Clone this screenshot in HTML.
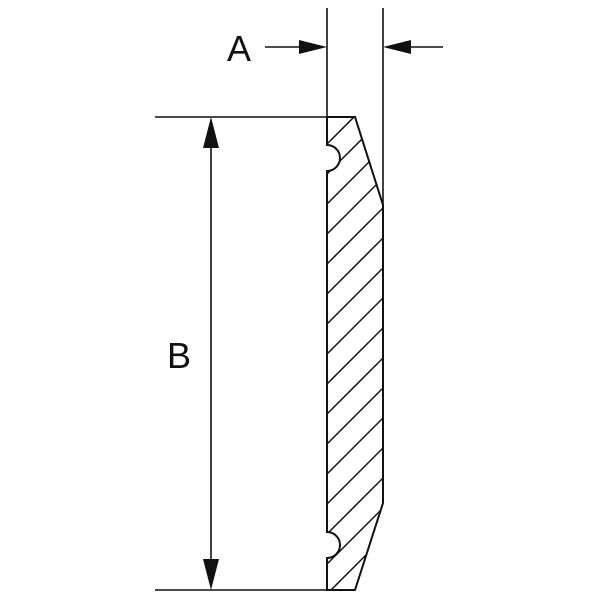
<!DOCTYPE html>
<html><head><style>html,body{margin:0;padding:0;background:#fff;overflow:hidden;width:600px;height:600px}svg{display:block}</style></head><body>
<svg width="600" height="600" viewBox="0 0 600 600" xmlns="http://www.w3.org/2000/svg">
<defs>
<clipPath id="c"><path d="M327,117 L355,117 L383,205 L383,503 L355,590 L327,590 L327,558 A13,13 0 0 0 327,532 L327,171 A13,13 0 0 0 327,145 Z"/></clipPath>
</defs>
<g stroke="#111" fill="none" stroke-width="1.6">
<line x1="327" y1="8" x2="327" y2="117"/>
<line x1="383" y1="8" x2="383" y2="205"/>
<line x1="155" y1="117" x2="327" y2="117"/>
<line x1="155" y1="590" x2="327" y2="590"/>
<line x1="211" y1="140" x2="211" y2="567"/>
<line x1="265" y1="47" x2="305" y2="47"/>
<line x1="405" y1="47" x2="443" y2="47"/>
<path stroke-width="2" d="M327,117 L355,117 L383,205 L383,503 L355,590 L327,590 L327,558 A13,13 0 0 0 327,532 L327,171 A13,13 0 0 0 327,145 Z"/>
<g clip-path="url(#c)" stroke-width="1.5">
<line x1="327" y1="144" x2="383" y2="88"/>
<line x1="327" y1="174" x2="383" y2="118"/>
<line x1="327" y1="204" x2="383" y2="148"/>
<line x1="327" y1="234" x2="383" y2="178"/>
<line x1="327" y1="264" x2="383" y2="208"/>
<line x1="327" y1="294" x2="383" y2="238"/>
<line x1="327" y1="324" x2="383" y2="268"/>
<line x1="327" y1="354" x2="383" y2="298"/>
<line x1="327" y1="384" x2="383" y2="328"/>
<line x1="327" y1="414" x2="383" y2="358"/>
<line x1="327" y1="444" x2="383" y2="388"/>
<line x1="327" y1="474" x2="383" y2="418"/>
<line x1="327" y1="504" x2="383" y2="448"/>
<line x1="327" y1="534" x2="383" y2="478"/>
<line x1="327" y1="564" x2="383" y2="508"/>
<line x1="327" y1="594" x2="383" y2="538"/>
<line x1="351" y1="600" x2="383" y2="568"/>
</g>
</g>
<g fill="#111">
<polygon points="211,117 203,148 219,148"/>
<polygon points="211,590 203,559 219,559"/>
<polygon points="327,47 299,40 299,54"/>
<polygon points="383,47 411,40 411,54"/>
</g>
<g font-family="Liberation Sans, sans-serif" font-size="36" fill="#111">
<text x="227" y="61">A</text>
<text x="167" y="368">B</text>
</g>
</svg>
</body></html>
